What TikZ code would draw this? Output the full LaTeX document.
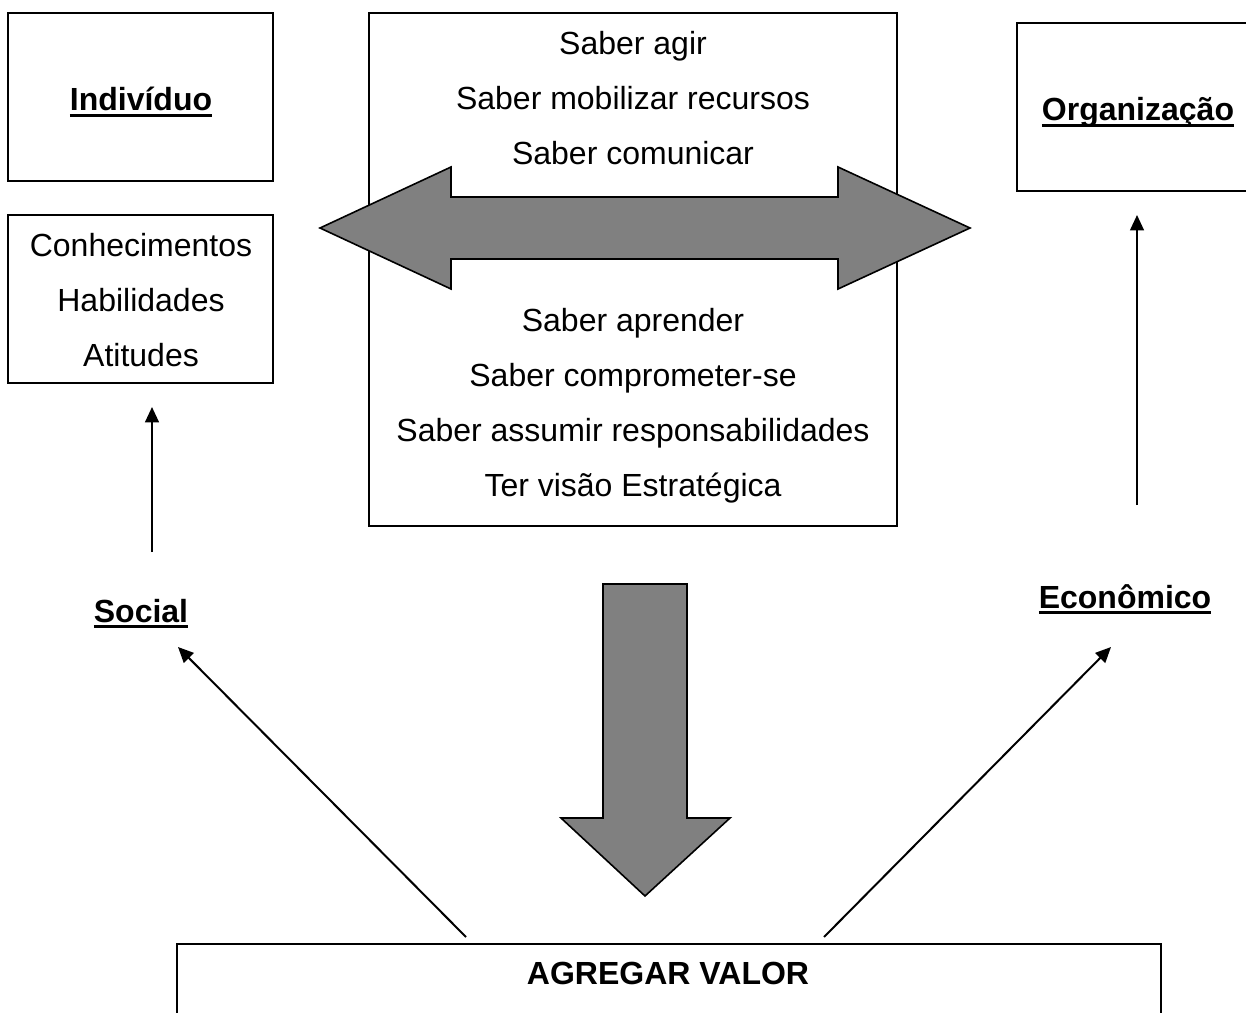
\documentclass[tikz,border=0pt]{standalone}
\usepackage{fontspec}
\setmainfont{Liberation Sans}
\usetikzlibrary{arrows.meta}
\definecolor{arrowgray}{HTML}{808080}
% bold text with a thick underline
\newcommand\ulbold[1]{\setbox0\hbox{\bfseries #1}\rlap{\rule[-2.4pt]{\wd0}{1.1pt}}\box0}
\begin{document}
\begin{tikzpicture}[x=0.375pt,y=-0.375pt,
  box/.style={draw,line width=0.75pt,inner sep=0pt,rectangle},
  txt/.style={inner sep=0pt,anchor=base,font=\fontsize{12}{14}\selectfont},
  fat/.style={draw,fill=arrowgray,line width=0.6pt,line join=miter},
  thin/.style={line width=0.75pt,-{Triangle[length=5.8pt,width=5.2pt]}}]
\useasboundingbox (0,0) rectangle (1246,1012);
\clip (0,0) rectangle (1246,1012);

% boxes
\node[box,minimum width=99.4pt,minimum height=63pt] (indiv) at (140.5,97) {};
\node[box,minimum width=99.4pt,minimum height=63pt] (cha) at (140.5,299) {};
\node[box,minimum width=198pt,minimum height=192.4pt] (saber) at (633,269.5) {};
\node[box,minimum width=91.5pt,minimum height=63pt] (org) at (1139,107) {};
\node[box,minimum width=369pt,minimum height=40pt] (valor) at (669,997) {};

% box texts
\node[txt] (tindiv) at (141,111) {\ulbold{Indivíduo}};
\node[txt] (t1) at (141,256) {Conhecimentos};
\node[txt] (t2) at (141,311) {Habilidades};
\node[txt] (t3) at (141,366) {Atitudes};
\node[txt] (s1) at (633,55) {Saber agir};
\node[txt] (s2) at (633,110) {Saber mobilizar recursos};
\node[txt] (s3) at (633,165) {Saber comunicar};
\node[txt] (s4) at (633,331) {Saber aprender};
\node[txt] (s5) at (633,386) {Saber comprometer-se};
\node[txt] (s6) at (633,441) {Saber assumir responsabilidades};
\node[txt] (s7) at (633,496) {Ter visão Estratégica};
\node[txt] (torg) at (1138,121) {\ulbold{Organização}};
\node[txt] (social) at (141,622) {\ulbold{Social}};
\node[txt] (econ) at (1125,608) {\ulbold{Econômico}};
\node[txt] (tvalor) at (668,984) {\bfseries AGREGAR VALOR};

% block arrows
\draw[fat] (320,228) -- (451,167) -- (451,197) -- (838,197) -- (838,167)
  -- (970,228) -- (838,289) -- (838,259) -- (451,259) -- (451,289) -- cycle;
\draw[fat] (603,584) -- (687,584) -- (687,818) -- (730,818) -- (645,896)
  -- (561,818) -- (603,818) -- cycle;

% thin connectors
\coordinate (socA) at (152,552);
\coordinate (socB) at (152,407);
\coordinate (ecoA) at (1137,505);
\coordinate (ecoB) at (1137,215);
\coordinate (vL) at (466,937);
\coordinate (vLend) at (178,647);
\coordinate (vR) at (824,937);
\coordinate (vRend) at (1111,647);
\draw[thin] (socA) -- (socB);
\draw[thin] (ecoA) -- (ecoB);
\draw[thin] (vL) -- (vLend);
\draw[thin] (vR) -- (vRend);
\end{tikzpicture}
\end{document}
